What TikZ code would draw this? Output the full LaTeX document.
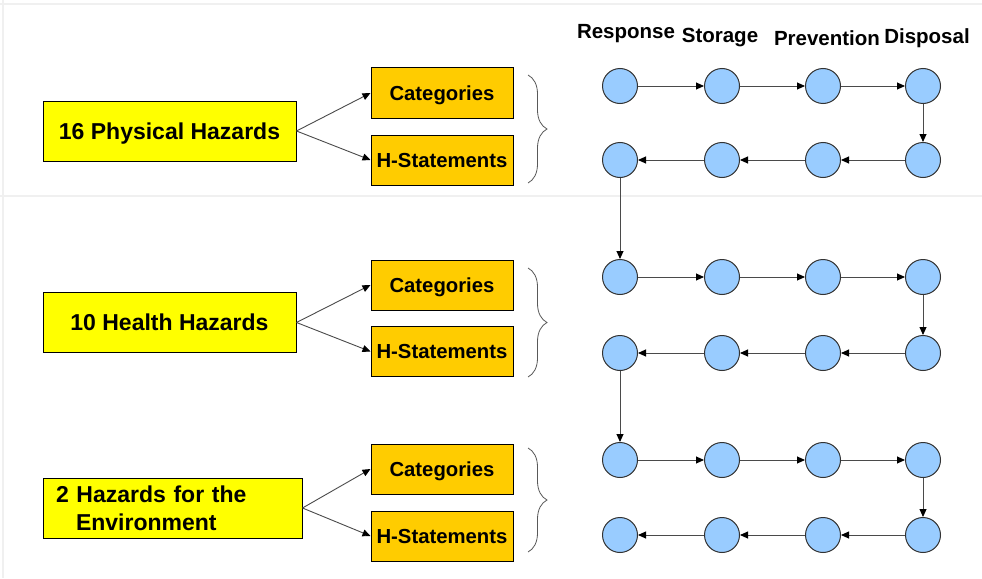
\documentclass[tikz,border=0pt]{standalone}
\usepackage{fontspec}
\setmainfont{Liberation Sans}
\usetikzlibrary{arrows.meta,decorations.pathreplacing}
\definecolor{hyellow}{HTML}{FFFF00}
\definecolor{horange}{HTML}{FFCC00}
\definecolor{cblue}{HTML}{99CCFF}
\definecolor{lgray}{HTML}{4A4A4A}
\begin{document}
\begin{tikzpicture}[x=1pt,y=-1pt,
  hazardbox/.style={draw=black, line width=1pt, fill=hyellow, minimum width=253pt, minimum height=60pt, inner sep=0pt, font=\fontsize{23}{28}\selectfont\bfseries},
  hazard/.style={hazardbox, text depth=0pt},
  sub/.style={draw=black, line width=1pt, fill=horange, minimum width=142pt, minimum height=50pt, inner sep=0pt, text depth=0pt, font=\fontsize{20.3}{24}\selectfont\bfseries},
  dot/.style={circle, draw=black!80, line width=1pt, fill=cblue, minimum size=35pt, inner sep=0pt},
  head/.style={font=\fontsize{20.5}{24}\selectfont\bfseries, inner sep=0pt},
  link/.style={draw=lgray, line width=0.9pt, -{Triangle[length=8pt,width=7pt,color=black]}},
  brc/.style={draw=black!65, line width=0.8pt, decorate, decoration={brace, amplitude=19pt}}]
\useasboundingbox (0,0) rectangle (982,578);
\fill[white] (0,0) rectangle (982,578);
\draw[gray!12, line width=1.5pt] (0,196) -- (982,196);
\draw[gray!12, line width=1.5pt] (0,4) -- (982,4);
\draw[gray!12, line width=1.5pt] (3,0) -- (3,578);

% hazards
\node[hazard] (h1) at (169.5,131) {16 Physical Hazards};
\node[hazard] (h2) at (169.5,322.5) {10 Health Hazards};
\node[hazardbox, minimum width=259pt, text width=233pt, align=left] (h3) at (172.5,508) {2 Hazards for the\\\hspace*{20pt}Environment};

% sub boxes
\node[sub] (c1) at (442,93) {Categories};
\node[sub] (s1) at (442,160) {H-Statements};
\node[sub] (c2) at (442,285) {Categories};
\node[sub] (s2) at (442,351.5) {H-Statements};
\node[sub] (c3) at (442,469) {Categories};
\node[sub] (s3) at (442,536) {H-Statements};

\foreach \i in {1,2,3} {
  \draw[link] (h\i.east) -- (c\i.west);
  \draw[link] (h\i.east) -- (s\i.west);
}

% braces
\coordinate (b1t) at (528,75);  \coordinate (b1b) at (528,183);
\coordinate (b2t) at (528,268); \coordinate (b2b) at (528,377);
\coordinate (b3t) at (528,448); \coordinate (b3b) at (528,552);
\draw[brc] (b1t) -- (b1b);
\draw[brc] (b2t) -- (b2b);
\draw[brc] (b3t) -- (b3b);

% headers
\node[head] (t1) at (626,34) {Response};
\node[head] (t2) at (720,38) {Storage};
\node[head] (t3) at (827,38) {Prevention};
\node[head] (t4) at (927,38) {Disposal};

% circles
\foreach \r/\y in {1/86,2/160,3/277,4/353,5/460,6/535} {
  \foreach \c/\x in {1/620,2/722,3/823,4/923} {
    \node[dot] (n\r\c) at (\x,\y) {};
  }
}

% snake connectors
\foreach \r in {1,3,5} {
  \draw[link] (n\r1) -- (n\r2);
  \draw[link] (n\r2) -- (n\r3);
  \draw[link] (n\r3) -- (n\r4);
}
\foreach \r in {2,4,6} {
  \draw[link] (n\r4) -- (n\r3);
  \draw[link] (n\r3) -- (n\r2);
  \draw[link] (n\r2) -- (n\r1);
}
\draw[link] (n14) -- (n24);
\draw[link] (n21) -- (n31);
\draw[link] (n34) -- (n44);
\draw[link] (n41) -- (n51);
\draw[link] (n54) -- (n64);
\end{tikzpicture}
\end{document}
